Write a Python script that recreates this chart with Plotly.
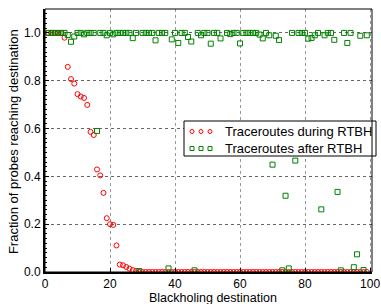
import plotly.graph_objects as go

x_dest = list(range(1, 100))

during_rtbh = [1.0, 1.0, 1.0, 1.0, 1.0, 0.98, 0.858, 0.807, 0.788, 0.744,
               0.734, 0.728, 0.699, 0.586, 0.573, 0.429, 0.404, 0.331, 0.225, 0.200,
               0.197, 0.111, 0.031, 0.028, 0.021, 0.014, 0.008, 0.004] + [0.0] * 71

after_rtbh = [1.0, 1.0, 1.0, 1.0, 1.0, 1.0, 0.991, 0.963, 0.985, 1.0,
              1.0, 0.994, 1.0, 1.0, 1.0, 0.59, 1.0, 1.0, 0.99, 1.0,
              0.994, 1.0, 1.0, 1.0, 1.0, 1.0, 0.978, 1.0, 0.004, 1.0,
              1.0, 1.0, 1.0, 0.969, 1.0, 1.0, 1.0, 0.015, 0.973, 1.0,
              0.958, 1.0, 1.0, 0.983, 0.964, 0.007, 1.0, 0.99, 1.0, 1.0,
              0.955, 1.0, 1.0, 0.977, 0.55, 1.0, 0.995, 1.0, 1.0, 0.956,
              1.0, 1.0, 1.0, 1.0, 1.0, 0.993, 0.977, 1.0, 0.99, 0.449,
              0.988, 0.97, 0.007, 0.319, 0.015, 1.0, 0.466, 1.0, 1.0, 1.0,
              0.976, 0.979, 0.99, 1.0, 0.262, 0.99, 1.0, 1.0, 0.971, 0.335,
              0.007, 1.0, 0.958, 1.0, 0.02, 0.074, 0.988, 0.008, 0.99]

series_names = ["Traceroutes during RTBH", "Traceroutes after RTBH"]
series_colors = ["#ff0000", "#008000"]

x_ticks = [0, 20, 40, 60, 80, 100]
y_ticks = [0.0, 0.2, 0.4, 0.6, 0.8, 1.0]

FONT = "Liberation Sans, Arial, sans-serif"

fig = go.Figure()
fig.add_trace(go.Scatter(
    x=x_dest, y=during_rtbh, mode="markers", name=series_names[0],
    marker=dict(symbol="circle-open", size=5, color=series_colors[0],
                line=dict(width=1, color=series_colors[0])),
))
fig.add_trace(go.Scatter(
    x=x_dest, y=after_rtbh, mode="markers", name=series_names[1],
    marker=dict(symbol="square-open", size=5, color=series_colors[1],
                line=dict(width=1, color=series_colors[1])),
))

# --- legend drawn as a box with sample glyphs and real text (MATLAB style) ---
PW, PH, PL, PT = 327.0, 263.0, 45.0, 9.0
def px_x(p):
    return (p - PL) / PW
def px_y(p):
    return (PT + PH - p) / PH

shapes = [
    dict(type="rect", xref="paper", yref="paper",
         x0=px_x(184), x1=px_x(376), y0=px_y(156), y1=px_y(121),
         line=dict(color="black", width=1), fillcolor="white", layer="above"),
]
row_y = [px_y(131.5), px_y(148.5)]
glyph_x = [px_x(192), px_x(201), px_x(210)]
for i, (ry, col) in enumerate(zip(row_y, series_colors)):
    for gx in glyph_x:
        shapes.append(dict(
            type="circle" if i == 0 else "rect",
            xref="paper", yref="paper", xsizemode="pixel", ysizemode="pixel",
            xanchor=gx, yanchor=ry, x0=-2, x1=2, y0=-2, y1=2,
            line=dict(color=col, width=1), fillcolor="rgba(0,0,0,0)", layer="above"))

shapes.append(dict(type="rect", xref="paper", yref="paper", x0=0, y0=0, x1=1, y1=1,
                   line=dict(color="black", width=1), layer="above"))

annotations = [
    dict(text=series_names[i], xref="paper", yref="paper", x=px_x(223), y=row_y[i],
         xanchor="left", yanchor="middle", showarrow=False, font=dict(size=13))
    for i in range(2)
] + [
    dict(text="Blackholing destination", xref="paper", yref="paper",
         x=0.514, y=0, yshift=-26, xanchor="center", yanchor="middle",
         showarrow=False, font=dict(size=12.5)),
    dict(text="Fraction of probes reaching destination", xref="paper", yref="paper",
         x=0, xshift=-32, y=0.494, xanchor="center", yanchor="middle",
         textangle=-90, showarrow=False, font=dict(size=13)),
]

fig.update_layout(
    width=381, height=304,
    margin=dict(l=45, r=9, t=9, b=32, autoexpand=False),
    paper_bgcolor="white", plot_bgcolor="white",
    font=dict(family=FONT, size=12, color="black"),
    showlegend=False,
    shapes=shapes,
    annotations=annotations,
)

fig.update_xaxes(
    range=[0, 100.6], tickvals=x_ticks, ticktext=[str(v) for v in x_ticks],
    showgrid=True, gridcolor="#999999", griddash="dot", gridwidth=1,
    zeroline=False, showline=True, linecolor="black", linewidth=2,
    ticks="inside", ticklen=4, tickcolor="black", automargin=False,
    tickfont=dict(size=12),
)
fig.update_yaxes(
    range=[0, 1.1], tickvals=y_ticks, ticktext=["%.1f" % v for v in y_ticks],
    showgrid=True, gridcolor="#666666", griddash="dot", gridwidth=1,
    zeroline=False, showline=True, linecolor="black", linewidth=2,
    ticks="inside", ticklen=4, tickcolor="black", automargin=False,
    minor=dict(ticks="inside", ticklen=2, dtick=0.02, tickcolor="black", showgrid=False),
    tickfont=dict(size=12),
)

fig.write_html("out.html", config={"displayModeBar": False},
               post_script="document.body.style.margin='0';")
